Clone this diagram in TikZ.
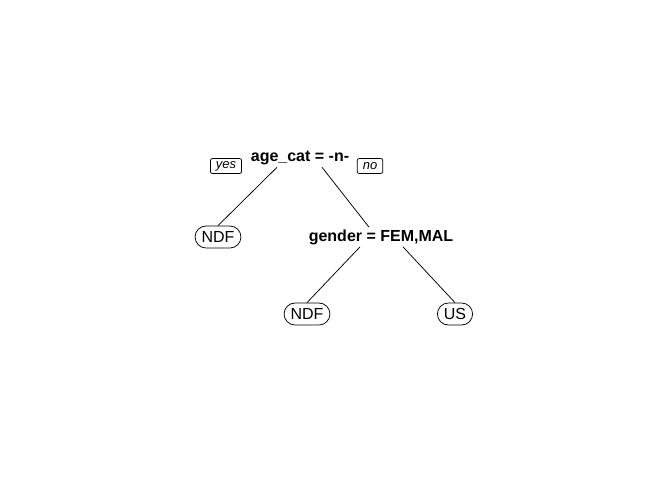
\documentclass[tikz,border=0pt]{standalone}
\usepackage{fontspec}
\setmainfont{Liberation Sans}
\begin{document}
\begin{tikzpicture}[x=1pt, y=-1pt, line width=0.75pt,
    split/.style={font=\fontsize{16}{18}\selectfont\bfseries, inner sep=2pt},
    leaf/.style={draw, rounded corners=11pt, font=\fontsize{16}{18}\selectfont, inner xsep=6.5pt, inner ysep=0pt, minimum height=22pt},
    tag/.style={draw, rounded corners=2pt, font=\fontsize{13}{15}\selectfont\itshape, inner xsep=5.5pt, inner ysep=0pt, minimum height=15pt}]
    \useasboundingbox (0,0) rectangle (672,480);
    \node[split] (root) at (300,158) {age\_cat = -n-};
    \node[tag] (yes) at (226,166) {yes};
    \node[tag] (no) at (370,166) {no};
    \node[leaf] (ndfa) at (218,237) {NDF};
    \node[split] (gender) at (381,237) {gender = FEM,MAL};
    \node[leaf] (ndfb) at (307,314) {NDF};
    \node[leaf] (us) at (455,314) {US};
    \draw ([xshift=-23pt]root.south) -- (ndfa.north);
    \draw ([xshift=22pt]root.south) -- ([xshift=-12pt]gender.north);
    \draw ([xshift=-21pt]gender.south) -- (ndfb.north);
    \draw ([xshift=22pt]gender.south) -- (us.north);
\end{tikzpicture}
\end{document}
